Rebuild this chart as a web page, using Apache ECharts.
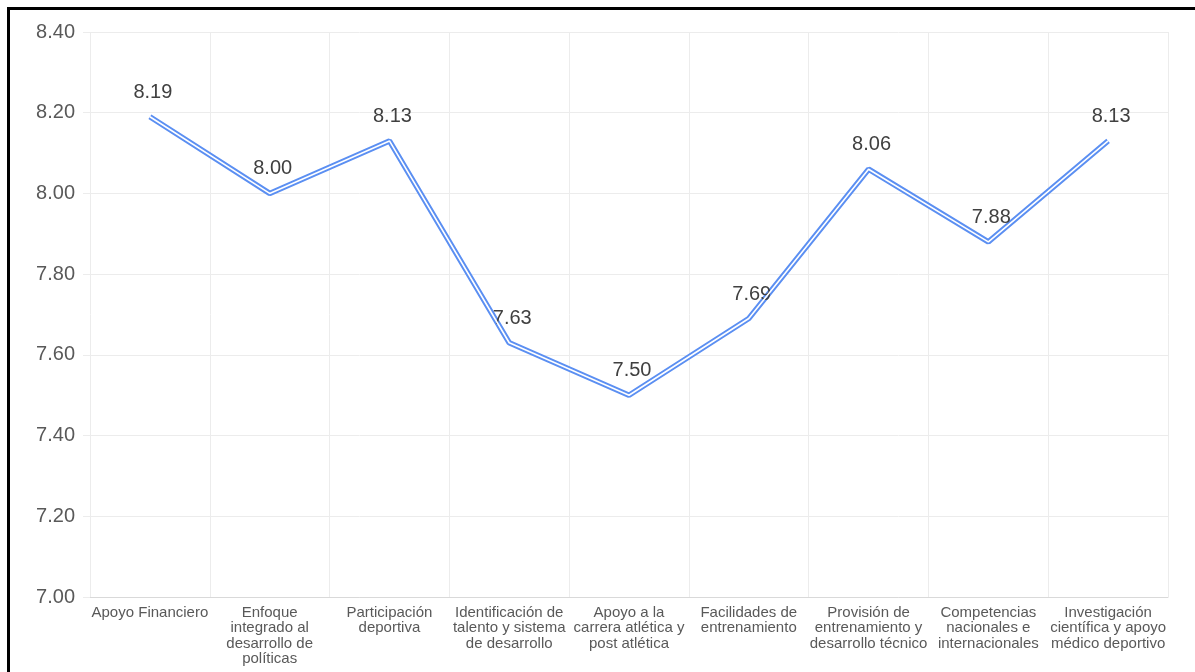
<!DOCTYPE html>
<html>
<head>
<meta charset="utf-8">
<script src="https://cdn.jsdelivr.net/npm/echarts@6/dist/echarts.min.js"></script>
<style>
  html, body { margin: 0; padding: 0; background: #fff; overflow: hidden; }
  #chart { position: absolute; left: 0; top: 0; width: 1195px; height: 672px; }
  #frame { position: absolute; left: 7px; top: 7px; width: 1300px; height: 800px;
           border: 3px solid #000; pointer-events: none; box-sizing: border-box; }
</style>
</head>
<body>
<div id="chart"></div>
<div id="frame"></div>
<script>
// Dimensions of the sports policy evaluation
const categories = [
  'Apoyo Financiero',
  'Enfoque\nintegrado al\ndesarrollo de\npolíticas',
  'Participación\ndeportiva',
  'Identificación de\ntalento y sistema\nde desarrollo',
  'Apoyo a la\ncarrera atlética y\npost atlética',
  'Facilidades de\nentrenamiento',
  'Provisión de\nentrenamiento y\ndesarrollo técnico',
  'Competencias\nnacionales e\ninternacionales',
  'Investigación\ncientífica y apoyo\nmédico deportivo'
];

// Average score per dimension
const scores = [8.19, 8.00, 8.13, 7.63, 7.50, 7.69, 8.06, 7.88, 8.13];

// Value axis range
const yMin = 7.0;
const yMax = 8.4;
const yStep = 0.2;

const chart = echarts.init(document.getElementById('chart'));
const font = 'Liberation Sans, Arial, sans-serif';

chart.setOption({
  animation: false,
  grid: { left: 90, right: 27, top: 32, bottom: 75, containLabel: false },
  xAxis: {
    type: 'category',
    data: categories,
    boundaryGap: true,
    axisLine: { lineStyle: { color: '#d9d9d9', width: 1 } },
    axisTick: { show: false },
    splitLine: { show: true, lineStyle: { color: '#ececec', width: 1 } },
    axisLabel: {
      interval: 0,
      margin: 8,
      color: '#595959',
      fontFamily: font,
      fontSize: 15,
      lineHeight: 15.5,
      align: 'center'
    }
  },
  yAxis: {
    type: 'value',
    min: yMin,
    max: yMax,
    interval: yStep,
    axisLine: { show: false },
    axisTick: { show: true, length: 7, lineStyle: { color: '#ececec' } },
    splitLine: { lineStyle: { color: '#ececec', width: 1 } },
    axisLabel: {
      margin: 15,
      color: '#595959',
      fontFamily: font,
      fontSize: 20,
      formatter: v => v.toFixed(2)
    }
  },
  series: [
    {
      name: 'outer',
      type: 'line',
      data: scores,
      symbol: 'circle',
      symbolSize: 1,
      showSymbol: true,
      itemStyle: { color: 'rgba(0,0,0,0)' },
      lineStyle: { color: '#5b8ff2', width: 5.5 },
      label: {
        show: true,
        position: 'top',
        distance: 14,
        offset: [3, 0],
        color: '#404040',
        fontFamily: font,
        fontSize: 20,
        formatter: p => p.value.toFixed(2)
      },
      z: 2
    },
    {
      name: 'inner',
      type: 'line',
      data: scores,
      symbol: 'none',
      lineStyle: { color: '#ffffff', width: 1.6 },
      silent: true,
      z: 3
    }
  ]
});
</script>
</body>
</html>
